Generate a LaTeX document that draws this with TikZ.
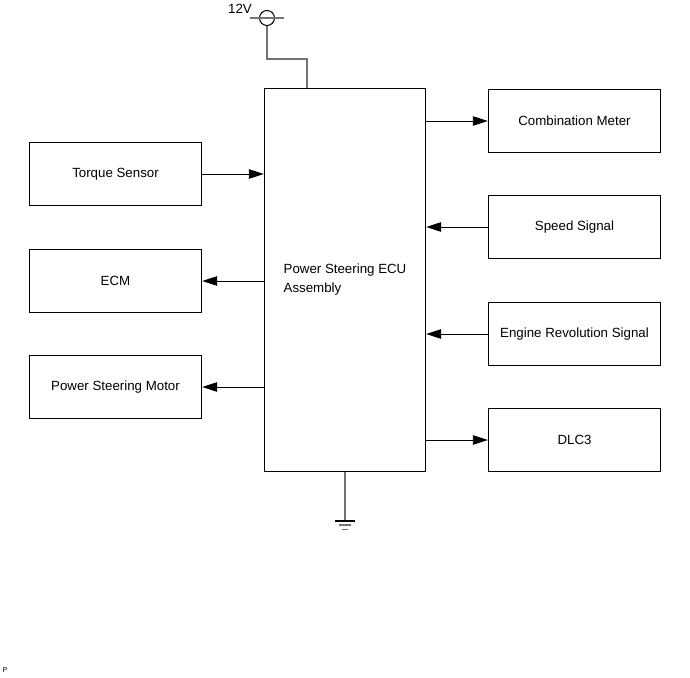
\documentclass[tikz,border=0pt]{standalone}
\usepackage{fontspec}
\setmainfont{Liberation Sans}
\usepackage{tikz}
\usetikzlibrary{arrows.meta,positioning,calc}
\tikzset{
  blk/.style={rectangle,draw,line width=1.4pt,minimum width=172pt,minimum height=63pt,inner sep=2pt,align=center,font=\fontsize{13.3}{17}\selectfont},
  ecub/.style={rectangle,draw,line width=1.4pt,minimum width=161pt,minimum height=383pt,align=left,font=\fontsize{13.3}{19}\selectfont},
  arr/.style={-{Triangle[length=15pt,width=9.5pt]},line width=0.9pt},
  wire/.style={draw=black!55,line width=1.2pt},
  gline/.style={line width=1.2pt},
}

\begin{document}
\begin{tikzpicture}[x=1pt,y=-1pt]
  \useasboundingbox (0,0) rectangle (690,677);
  % ECU in the middle
  \node[ecub] (ecu) at (345,280) {Power Steering ECU\\Assembly};
  % left side
  \node[blk] (ts) at (115.5,174) {Torque Sensor};
  \node[blk] (ecm) at (115.5,281) {ECM};
  \node[blk] (psm) at (115.5,387) {Power Steering Motor};
  % right side
  \node[blk] (cm) at (574.5,121) {Combination Meter};
  \node[blk] (sp) at (574.5,227) {Speed Signal};
  \node[blk] (er) at (574.5,334) {Engine Revolution Signal};
  \node[blk] (dlc) at (574.5,440) {DLC3};
  \draw[arr] (ts.east) -- (ecu.west |- ts); \draw[arr] (ecu.west |- ecm) -- (ecm.east); \draw[arr] (ecu.west |- psm) -- (psm.east);
  \draw[arr] (ecu.east |- cm) -- (cm.west); \draw[arr] (sp.west) -- (ecu.east |- sp);
  \draw[arr] (er.west) -- (ecu.east |- er); \draw[arr] (ecu.east |- dlc) -- (dlc.west);
  % supply
  \node[circle,draw,line width=1pt,minimum size=15pt,inner sep=0pt] (vcc) at (267,18) {};
  \draw[wire] ([xshift=-9pt]vcc.west) -- ([xshift=9pt]vcc.east);
  \node[font=\fontsize{13.3}{14}\selectfont,inner sep=0pt] (v12) at (240,9) {12V};
  \coordinate (vbend) at (267,59);
  \draw[wire] (vcc.south) -- (vbend) -| ([xshift=-38pt]ecu.north);
  % ground
  \coordinate (gnd) at (345,521);
  \draw[wire] (ecu.south) -- (gnd);
  \draw[gline] ($(gnd)+(-10,0)$) -- ($(gnd)+(10,0)$);
  \draw[gline,black!55] ($(gnd)+(-6,4)$) -- ($(gnd)+(6,4)$);
  \draw[gline,black!55] ($(gnd)+(-3,8.5)$) -- ($(gnd)+(3,8.5)$);
  \node[font=\fontsize{7}{8}\selectfont,inner sep=0pt] (pg) at (5,670) {P};
\end{tikzpicture}
\end{document}
